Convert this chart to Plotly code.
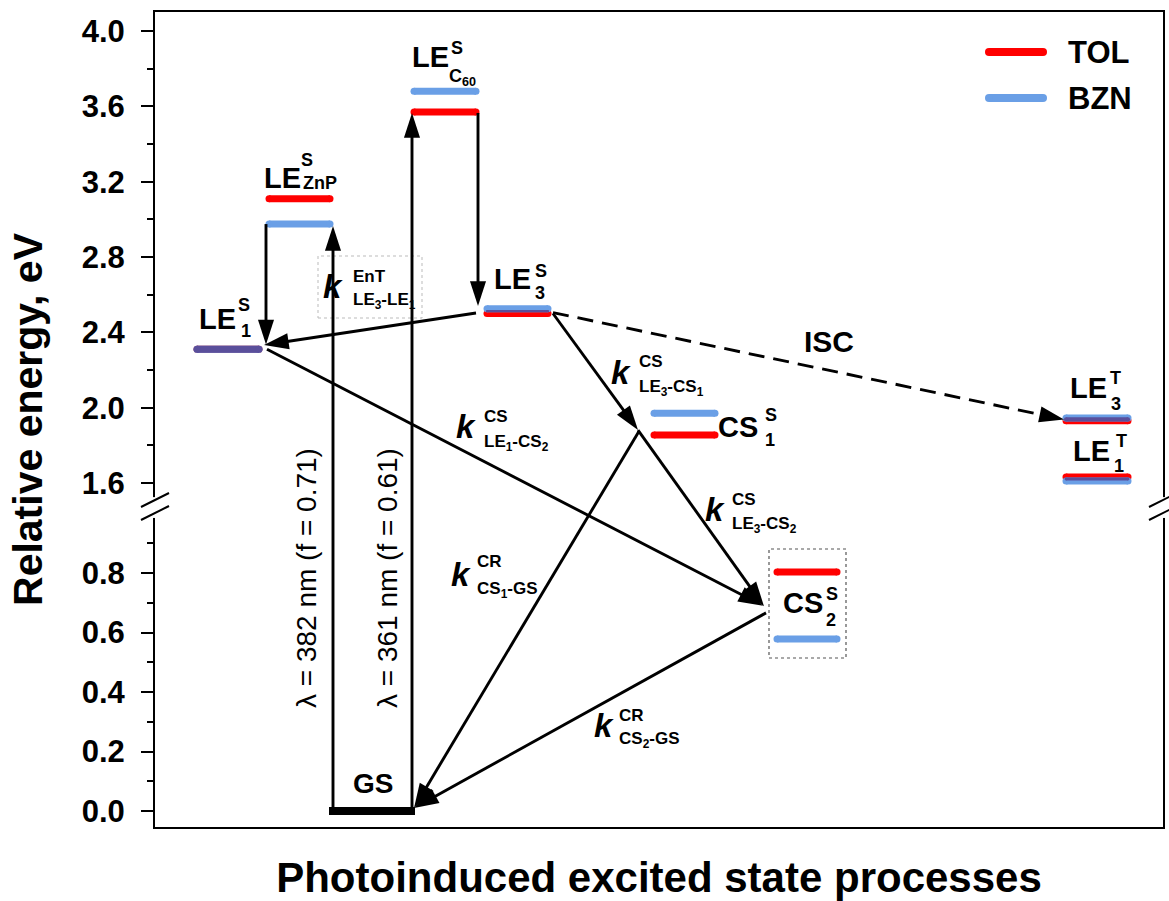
import plotly.graph_objects as go

# ---------------- data ----------------
level_keys = ["LE1S", "LEZnPS", "LEC60S", "LE3S", "CS1S", "CS2S", "LE3T", "LE1T"]
level_x0 = [197, 269, 414, 487, 654, 777, 1066, 1066]
level_x1 = [259, 330, 476, 548, 715, 837, 1128, 1128]
E_TOL = [2.31, 3.11, 3.57, 2.50, 1.855, 0.803, 1.93, 1.632]
E_BZN = [2.31, 2.975, 3.68, 2.525, 1.97, 0.578, 1.945, 1.61]
label_main = ["LE", "LE", "LE", "LE", "CS", "CS", "LE", "LE"]
label_sup = ["S", "S", "S", "S", "S", "S", "T", "T"]
label_sub = ["1", "ZnP", "C<sub>60</sub>", "3", "1", "2", "3", "1"]

gs_x = [333, 411]
gs_E = [0.0, 0.0]

# process arrows: tail (x0, E0) -> head (x1, E1)
arrow_x0 = [333, 412, 266, 478, 476, 267, 553, 638, 639, 766]
arrow_E0 = [0.0, 0.0, 2.975, 3.565, 2.503, 2.31, 2.50, 1.881, 1.875, 0.666]
arrow_x1 = [333, 412, 266, 478, 264, 763, 638, 764, 414, 414]
arrow_E1 = [2.965, 3.565, 2.335, 2.54, 2.333, 0.69, 1.881, 0.688, 0.01, 0.01]
isc_x = [553, 1064]
isc_E = [2.505, 1.937]

major_ticks = [0.0, 0.2, 0.4, 0.6, 0.8, 1.6, 2.0, 2.4, 2.8, 3.2, 3.6, 4.0]
minor_ticks = [0.1, 0.3, 0.5, 0.7, 0.9, 1.8, 2.2, 2.6, 3.0, 3.4, 3.8]
series_names = ["TOL", "BZN"]

rate_sup = ["EnT", "CS", "CS", "CS", "CR", "CR"]
rate_sub = ["LE<sub>3</sub>-LE<sub>1</sub>", "LE<sub>1</sub>-CS<sub>2</sub>",
            "LE<sub>3</sub>-CS<sub>1</sub>", "LE<sub>3</sub>-CS<sub>2</sub>",
            "CS<sub>1</sub>-GS", "CS<sub>2</sub>-GS"]

# ---------------- styling / layout constants ----------------
FONT = "Liberation Sans, Arial, sans-serif"
RED = "#FF0000"
BLUE = "#6A9FE6"
PURPLE = "#5A4F9B"
LW = 7
PX_PER_U = 297.5
HEAD = 26
ALW = 2.9

# broken axis mapping: lower segment 0..~0.98, upper segment ~1.53..4.0
GAP_BASE = 1.1025
RATIO = 0.633
LOW_TOP = 0.985
UP_BOTTOM = 1.525


def u(E):
    return E if E <= 1.2 else GAP_BASE + (E - 1.6) * RATIO


def yp(py):
    # layout helper: vertical placement for text (pixel row -> axis units)
    return (811 - py) / PX_PER_U


fig = go.Figure()


def level_trace(Es, color, name):
    xs, ys = [], []
    for a, b, E in zip(level_x0, level_x1, Es):
        xs += [a, b, None]
        ys += [u(E), u(E), None]
    return go.Scatter(x=xs, y=ys, mode="lines+markers", name=name, showlegend=False,
                      line=dict(color=color, width=LW),
                      marker=dict(color=color, size=LW, line=dict(width=0)),
                      hoverinfo="skip")


fig.add_trace(level_trace(E_TOL, RED, series_names[0]))
fig.add_trace(level_trace(E_BZN, BLUE, series_names[1]))

# overlap of TOL/BZN levels appears purple
for a, b, e1, e2 in zip(level_x0, level_x1, E_TOL, E_BZN):
    d = abs(u(e1) - u(e2)) * PX_PER_U
    if d < LW - 1:
        ym = (u(e1) + u(e2)) / 2
        w = LW - d
        fig.add_trace(go.Scatter(x=[a, b], y=[ym, ym], mode="lines+markers", showlegend=False,
                                 line=dict(color=PURPLE, width=w),
                                 marker=dict(color=PURPLE, size=w, line=dict(width=0)),
                                 hoverinfo="skip"))

# ground state
fig.add_trace(go.Scatter(x=gs_x, y=[u(e) for e in gs_E], mode="lines+markers", showlegend=False,
                         line=dict(color="black", width=8),
                         marker=dict(color="black", size=8, symbol="square", line=dict(width=0)),
                         hoverinfo="skip"))

# process arrows
for x0, e0, x1, e1 in zip(arrow_x0, arrow_E0, arrow_x1, arrow_E1):
    fig.add_trace(go.Scatter(x=[x0, x1], y=[u(e0), u(e1)], mode="lines+markers", showlegend=False,
                             line=dict(color="black", width=ALW),
                             marker=dict(symbol="arrow", size=[0, HEAD], angleref="previous",
                                         color="black", opacity=1, line=dict(width=0)),
                             hoverinfo="skip"))

# ISC dashed arrow
fig.add_trace(go.Scatter(x=isc_x, y=[u(e) for e in isc_E], mode="lines+markers", showlegend=False,
                         line=dict(color="black", width=ALW, dash="16px,9px"),
                         marker=dict(symbol="arrow", size=[0, HEAD], angleref="previous",
                                     color="black", opacity=1, line=dict(width=0)),
                         hoverinfo="skip"))


def txt(x, y, text, size, bold=True, italic=False, xanchor="center", xshift=0, yshift=0, angle=0):
    fig.add_annotation(x=x, y=y, xref="x", yref="y", text=text, showarrow=False,
                       font=dict(family=FONT, size=size, color="black",
                                 weight="bold" if bold else "normal",
                                 style="italic" if italic else "normal"),
                       xanchor=xanchor, yanchor="middle", xshift=xshift, yshift=yshift,
                       textangle=angle)


# level labels: offsets (px) of main text, superscript and subscript from level centre
lab_off = [
    ((-11, -30), (16, -44), (18, -18)),
    ((-17, -21), (7, -39), (20, -16)),
    ((-15, -55), (12, -64), (17, -35)),
    ((-5, -35), (23, -43), (22, -21)),
    ((53, -8), (86, -20), (85, 5)),
    ((-4, 31), (25, 22), (24, 48)),
    ((-9, -33), (18, -43), (19, -17)),
    ((-6, -26), (24, -36), (22, -11)),
]
for i in range(len(level_keys)):
    xc = (level_x0[i] + level_x1[i]) / 2
    yc = u(E_TOL[i])
    (mx, my), (sx, sy), (bx, by) = lab_off[i]
    txt(xc, yc, label_main[i], 29, xshift=mx, yshift=-my)
    txt(xc, yc, label_sup[i], 18, xshift=sx, yshift=-sy)
    txt(xc, yc, label_sub[i], 18, xshift=bx, yshift=-by)

# rate-constant labels
rate_pos = [((333, 286), (351, 276), (351, 301)),
            ((466, 426), (482, 416), (482, 443)),
            ((621, 372), (637, 361), (637, 388)),
            ((715, 509), (730, 499), (730, 525)),
            ((461, 574), (475, 561), (475, 590)),
            ((604, 725), (617, 715), (617, 740))]
for (k, s, b), sup, sub in zip(rate_pos, rate_sup, rate_sub):
    txt(k[0], yp(k[1]), "k", 33, italic=True)
    txt(s[0], yp(s[1]), sup, 17, xanchor="left")
    txt(b[0], yp(b[1]), sub, 17, xanchor="left")

txt(829, yp(341), "ISC", 30)
txt(373, yp(783), "GS", 28)
txt(306, yp(578), "λ = 382 nm (f = 0.71)", 28, bold=False, angle=-90)
txt(387, yp(578), "λ = 361 nm (f = 0.61)", 28, bold=False, angle=-90)

# label boxes
fig.add_shape(type="rect", x0=318, x1=422, y0=yp(318), y1=yp(256), xref="x", yref="y",
              line=dict(color="#BBBBBB", width=1, dash="dot"), layer="below")
fig.add_shape(type="rect", x0=769, x1=846, y0=yp(658), y1=yp(549), xref="x", yref="y",
              line=dict(color="#555555", width=1.2, dash="dot"), layer="below")

# legend (manual, long line samples)
for name, col, py in zip(series_names, [RED, BLUE], [52, 98]):
    fig.add_trace(go.Scatter(x=[989, 1043], y=[yp(py), yp(py)], mode="lines+markers",
                             showlegend=False, line=dict(color=col, width=8),
                             marker=dict(color=col, size=8, line=dict(width=0)),
                             hoverinfo="skip"))
    txt(1066, yp(py), name, 31, xanchor="left")

# axis break: white gap + double slashes on left and right frame
for xa in (0, 1):
    fig.add_shape(type="rect", xref="paper", yref="y", xsizemode="pixel", xanchor=xa,
                  x0=-4, x1=4, y0=LOW_TOP, y1=u(UP_BOTTOM),
                  line=dict(width=0), fillcolor="white", layer="above")
    for yc in (yp(500), yp(513)):
        fig.add_shape(type="line", xref="paper", yref="y", xsizemode="pixel", xanchor=xa,
                      ysizemode="pixel", yanchor=yc, x0=-14, x1=14, y0=-7, y1=7,
                      line=dict(color="black", width=2), layer="above")

fig.update_layout(
    width=1169, height=901,
    margin=dict(l=155, r=6, t=12, b=74),
    paper_bgcolor="white", plot_bgcolor="white",
    showlegend=False,
    font=dict(family=FONT, color="black"),
    xaxis=dict(range=[155, 1163], showticklabels=False, ticks="", showgrid=False,
               zeroline=False, showline=True, mirror=True, linecolor="black", linewidth=2,
               automargin=False,
               title=dict(text="Photoinduced excited state processes", standoff=36,
                          font=dict(family=FONT, size=42, weight="bold"))),
    yaxis=dict(range=[yp(827), yp(12)], tickmode="array",
               tickvals=[u(t) for t in major_ticks],
               ticktext=[f"{t:.1f}" for t in major_ticks],
               ticks="outside", ticklen=12, tickwidth=2, tickcolor="black",
               ticklabelstandoff=10, automargin=False,
               minor=dict(tickmode="array", tickvals=[u(t) for t in minor_ticks],
                          ticks="outside", ticklen=6, tickwidth=2, tickcolor="black"),
               tickfont=dict(family=FONT, size=31, weight="bold"),
               showgrid=False, zeroline=False, showline=True, mirror=True,
               linecolor="black", linewidth=2,
               title=dict(text="Relative energy, eV", standoff=26,
                          font=dict(family=FONT, size=41, weight="bold"))),
)

fig.write_html("out.html", config={"displayModeBar": False},
               post_script="document.body.style.margin='0';document.body.style.overflow='hidden';")
